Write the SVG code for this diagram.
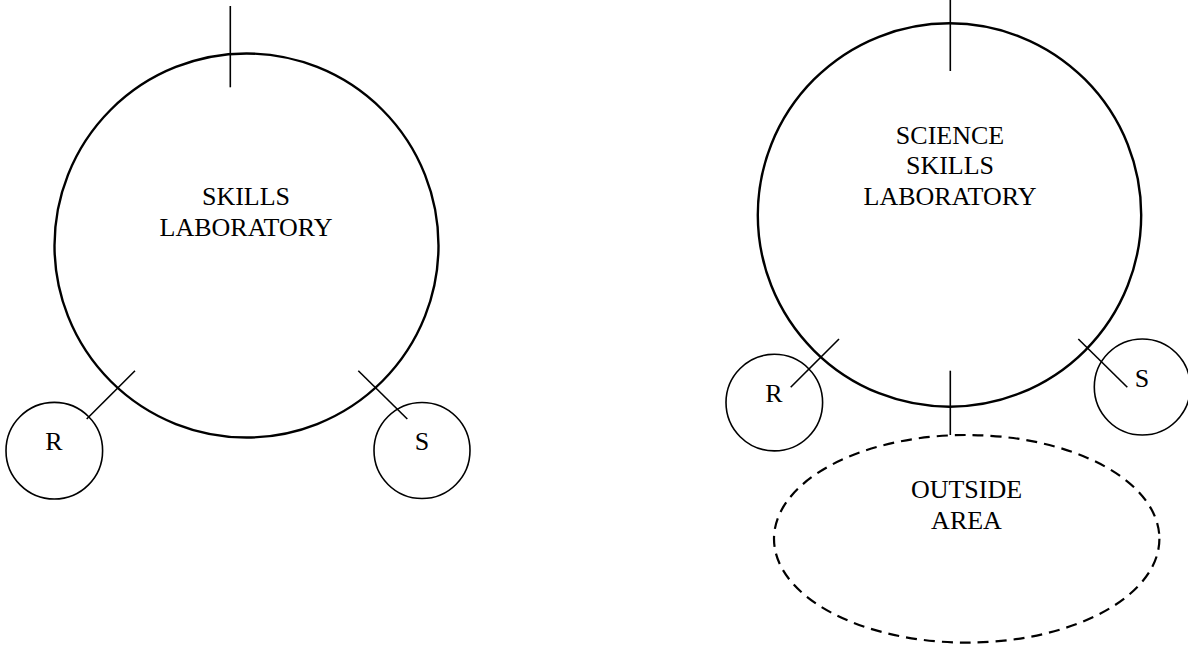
<svg xmlns="http://www.w3.org/2000/svg" width="1188" height="645" viewBox="0 0 1188 645">
<style>
.big{fill:none;stroke:#000;stroke-width:2.4}
.small{fill:none;stroke:#000;stroke-width:1.6}
.dash{fill:none;stroke:#000;stroke-width:2.2;stroke-dasharray:11 7}
.ln{stroke:#000;stroke-width:1.6;fill:none}
.t{font-family:"Liberation Serif","Times New Roman",serif;font-size:26px;fill:#000;text-anchor:middle}
</style>
<rect width="1188" height="645" fill="#fff"/>
<g id="skills-lab">
<circle class="big" cx="246.5" cy="245.5" r="192"/>
<text class="t" x="246" y="205">SKILLS</text>
<text class="t" x="246" y="236">LABORATORY</text>
</g>
<g id="left-r">
<circle class="small" cx="54.3" cy="450.7" r="48.3"/>
<text class="t" x="54" y="450">R</text>
</g>
<g id="left-s">
<circle class="small" cx="422" cy="450.5" r="48"/>
<text class="t" x="422" y="450">S</text>
</g>
<g id="science-lab">
<circle class="big" cx="949.5" cy="215" r="191.7"/>
<text class="t" x="950" y="143.5">SCIENCE</text>
<text class="t" x="950" y="174">SKILLS</text>
<text class="t" x="950" y="204.5">LABORATORY</text>
</g>
<g id="right-r">
<circle class="small" cx="774.3" cy="402.6" r="48.3"/>
<text class="t" x="774" y="401.7">R</text>
</g>
<g id="right-s">
<circle class="small" cx="1142.3" cy="387" r="48"/>
<text class="t" x="1142" y="386.5">S</text>
</g>
<g id="outside-area">
<ellipse class="dash" cx="966.7" cy="538.8" rx="192.7" ry="103.8"/>
<text class="t" x="966.5" y="498.3">OUTSIDE</text>
<text class="t" x="966.5" y="529">AREA</text>
</g>
<g id="connectors">
<line class="ln" x1="230.3" y1="6" x2="230.3" y2="87.3"/>
<line class="ln" x1="86.7" y1="419" x2="135" y2="370.7"/>
<line class="ln" x1="358.3" y1="370.7" x2="407.3" y2="419"/>
<line class="ln" x1="950.3" y1="0" x2="950.3" y2="71"/>
<line class="ln" x1="790.7" y1="387.3" x2="839" y2="339"/>
<line class="ln" x1="1078.3" y1="339" x2="1127.3" y2="387.3"/>
<line class="ln" x1="950.3" y1="370.7" x2="950.3" y2="435"/>
</g>
</svg>
